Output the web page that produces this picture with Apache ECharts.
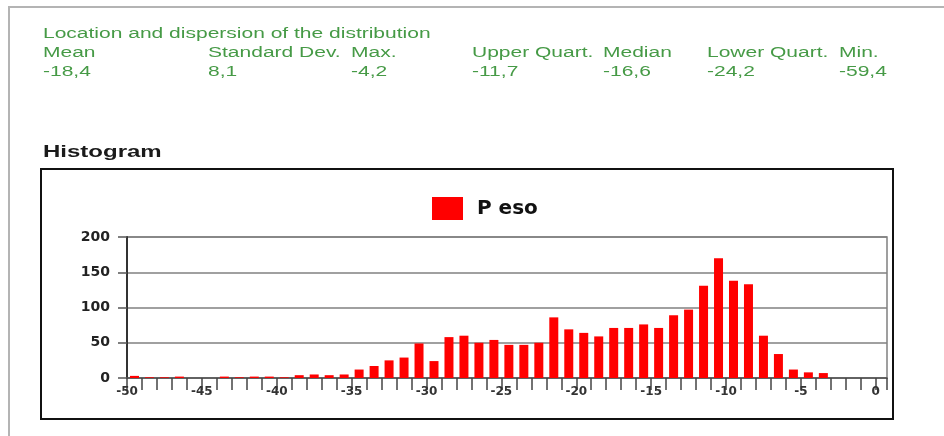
<!DOCTYPE html>
<html>
<head>
<meta charset="utf-8">
<script src="https://cdn.jsdelivr.net/npm/echarts@6/dist/echarts.min.js"></script>
<style>
  html, body { margin: 0; padding: 0; background: #fff; }
  #chart { width: 944px; height: 436px; }
</style>
</head>
<body>
<div id="chart"></div>
<script>
// header stats
const statTitle = 'Location and dispersion of the distribution'
const statNames = ['Mean', 'Standard Dev.', 'Max.', 'Upper Quart.', 'Median', 'Lower Quart.', 'Min.']
const statValues = ['-18,4', '8,1', '-4,2', '-11,7', '-16,6', '-24,2', '-59,4']
const statX = [43, 208, 351, 472, 603, 707, 839]

// histogram bins (centre of each 1-unit bin) and counts
const seriesName = 'P eso'
const binCenters = [
  -49.5, -48.5, -47.5, -46.5, -45.5, -44.5, -43.5, -42.5, -41.5, -40.5,
  -39.5, -38.5, -37.5, -36.5, -35.5, -34.5, -33.5, -32.5, -31.5, -30.5,
  -29.5, -28.5, -27.5, -26.5, -25.5, -24.5, -23.5, -22.5, -21.5, -20.5,
  -19.5, -18.5, -17.5, -16.5, -15.5, -14.5, -13.5, -12.5, -11.5, -10.5,
  -9.5, -8.5, -7.5, -6.5, -5.5, -4.5, -3.5
]
const counts = [
  3, 1, 1, 2, 0, 0, 2, 1, 2, 2,
  1, 4, 5, 4, 5, 12, 17, 25, 29, 49,
  24, 58, 60, 50, 54, 47, 47, 50, 86, 69,
  64, 59, 71, 71, 76, 71, 89, 97, 131, 170,
  138, 133, 60, 34, 12, 8, 7
]

const green = '#469a46'
const graphics = []

// light outer frame
graphics.push({
  type: 'polyline',
  shape: { points: [[944, 7], [9, 7], [9, 436]] },
  style: { stroke: '#b4b4b4', lineWidth: 2, fill: null }
})
// histogram frame
graphics.push({
  type: 'rect',
  shape: { x: 41, y: 169, width: 852, height: 250 },
  style: { stroke: '#111', lineWidth: 2, fill: null }
})

function txt (s, x, y, font, color) {
  return {
    type: 'text', x: x, y: y, scaleX: 1.5,
    style: { text: s, font: font, fill: color, align: 'left', verticalAlign: 'middle' }
  }
}

graphics.push(txt(statTitle, 43, 34, '14px "Liberation Sans", Arial, sans-serif', green))
statNames.forEach((n, i) => {
  graphics.push(txt(n, statX[i], 53, '14px "Liberation Sans", Arial, sans-serif', green))
  graphics.push(txt(statValues[i], statX[i], 72, '14px "Liberation Sans", Arial, sans-serif', green))
})
graphics.push(txt('Histogram', 43, 153, 'bold 16px "Liberation Sans", Arial, sans-serif', '#1a1a1a'))

const chart = echarts.init(document.getElementById('chart'))
chart.setOption({
  animation: false,
  graphic: graphics,
  legend: {
    left: 427,
    top: 192,
    itemWidth: 31,
    itemHeight: 23,
    icon: 'rect',
    textStyle: {
      fontFamily: 'DejaVu Sans',
      fontWeight: 'bold',
      fontSize: 20,
      color: '#111',
      padding: [0, 0, 0, 9]
    },
    data: [seriesName]
  },
  grid: {
    left: 127,
    right: 57,
    top: 237,
    bottom: 58,
    show: true,
    borderColor: '#808080',
    borderWidth: 1.5
  },
  xAxis: {
    type: 'value',
    min: -50,
    max: 0.75,
    interval: 1,
    splitLine: { show: false },
    axisLine: { onZero: false, lineStyle: { color: '#555', width: 1.5 } },
    axisTick: { length: 12, lineStyle: { color: '#444', width: 1.5 } },
    axisLabel: {
      margin: 8,
      showMinLabel: true,
      fontFamily: 'DejaVu Sans',
      fontWeight: 'bold',
      fontSize: 12,
      color: '#333',
      formatter: function (v) {
        return Math.abs(v % 5) < 1e-9 ? String(v) : ''
      }
    }
  },
  yAxis: {
    type: 'value',
    min: 0,
    max: 200,
    interval: 50,
    axisLine: { show: true, onZero: false, lineStyle: { color: '#333', width: 2 } },
    axisTick: { show: true, length: 9, lineStyle: { color: '#555', width: 1.5 } },
    splitLine: { lineStyle: { color: '#808080', width: 1.5 } },
    axisLabel: {
      margin: 17,
      fontFamily: 'DejaVu Sans',
      fontWeight: 'bold',
      fontSize: 14,
      color: '#222'
    }
  },
  series: [{
    name: seriesName,
    type: 'bar',
    barWidth: 9,
    barMinHeight: 0,
    itemStyle: { color: '#ff0000' },
    data: binCenters.map((x, i) => [x, counts[i]])
  }]
})
</script>
</body>
</html>
